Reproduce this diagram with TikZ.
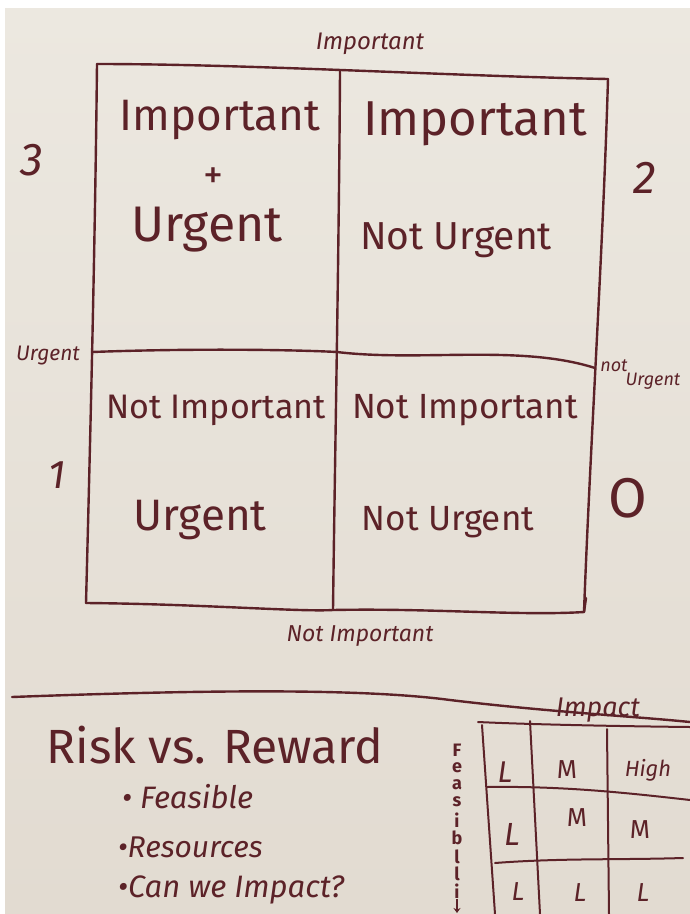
\documentclass[tikz,border=0pt]{standalone}
\usepackage{fontspec}
\setmainfont{Fira Sans}
\usetikzlibrary{arrows.meta}
\definecolor{ink}{HTML}{5C2228}
\definecolor{paperTop}{HTML}{ECE8E0}
\definecolor{paperBot}{HTML}{E2DBD1}
\newcommand{\hsz}[1]{\fontsize{#1}{#1}\selectfont}
\begin{document}
\begin{tikzpicture}[x=1pt,y=-1pt,
  pen/.style={draw=ink,line width=2.4pt,line cap=round,line join=round},
  thinpen/.style={draw=ink,line width=2pt,line cap=round,line join=round},
  hand/.style={text=ink,inner sep=0pt,anchor=center}]
\useasboundingbox (0,0) rectangle (690,914);
\fill[white] (0,0) rectangle (690,914);
\shade[top color=paperTop,bottom color=paperBot] (5,8) rectangle (690,914);

% ---- main grid corners
\coordinate (TL) at (97,64);
\coordinate (TM) at (340,71);
\coordinate (TR) at (608,79);
\coordinate (ML) at (92,352);
\coordinate (MM) at (337,352);
\coordinate (MR) at (595,368);
\coordinate (BL) at (86,603);
\coordinate (BM) at (333,610);
\coordinate (BR) at (584,612);

\draw[pen] (TL) .. controls (250,64) and (450,76) .. (TR);
\draw[pen] (TL) .. controls (95,250) and (90,450) .. (BL);
\draw[pen] (TM) .. controls (339,250) and (335,450) .. (BM);
\draw[pen] (TR) .. controls (603,250) and (590,450) .. (BR);
\draw[pen] (ML) .. controls (200,348) and (300,350) .. (MM)
               .. controls (420,362) and (520,344) .. (MR);
\draw[pen] (BL) .. controls (200,604) and (300,612) .. (BM)
               .. controls (430,608) and (520,616) .. (BR) -- (586,598);

% ---- separator
\coordinate (SL) at (12,697);
\coordinate (SR) at (690,722);
\draw[pen] (SL) .. controls (200,690) and (360,688) .. (450,700)
               .. controls (550,712) and (630,716) .. (SR);

% ---- axis labels and numbers
\node[hand,font=\hsz{24}\itshape] (topImp) at (370,44) {Important};
\node[hand,font=\hsz{23}\itshape] (botImp) at (360,636) {Not Important};
\node[hand,font=\hsz{21}\itshape] (lUrg) at (48,356) {Urgent};
\node[hand,font=\hsz{18}\itshape] (rNot) at (614,366) {not};
\node[hand,font=\hsz{18}\itshape] (rUrg) at (653,381) {Urgent};
\node[hand,font=\hsz{46}\itshape] (n3) at (32,160) {3};
\node[hand,font=\hsz{46}\itshape] (n2) at (645,178) {2};
\node[hand,font=\hsz{40}\itshape] (n1) at (57,475) {1};
\node[hand,font=\hsz{56}] (n0) at (628,498) {O};

% ---- quadrant text
\node[hand,font=\hsz{44}] (q1a) at (220,120) {Important};
\node[hand,font=\hsz{40}] (q1b) at (213,178) {+};
\node[hand,font=\hsz{50}] (q1c) at (207,230) {Urgent};
\node[hand,font=\hsz{49}] (q2a) at (475,124) {Important};
\node[hand,font=\hsz{39}] (q2b) at (456,240) {Not Urgent};
\node[hand,font=\hsz{34}] (q3a) at (216,410) {Not Important};
\node[hand,font=\hsz{44}] (q3b) at (200,520) {Urgent};
\node[hand,font=\hsz{35}] (q4a) at (465,410) {Not Important};
\node[hand,font=\hsz{35}] (q4b) at (448,522) {Not Urgent};

% ---- Risk vs Reward
\node[hand,font=\hsz{48}] (risk) at (215,745) {Risk vs. Reward};
\node[hand,font=\hsz{31}\itshape,anchor=west] (b1) at (122,797) {• Feasible};
\node[hand,font=\hsz{30}\itshape,anchor=west] (b2) at (118,847) {•Resources};
\node[hand,font=\hsz{31}\itshape,anchor=west] (b3) at (118,890) {•Can we Impact?};

% ---- small grid
\coordinate (gT1) at (478,722);
\coordinate (gT2) at (690,727);
\coordinate (gV1a) at (482,725); \coordinate (gV1b) at (495,914);
\coordinate (gV2a) at (530,721); \coordinate (gV2b) at (540,914);
\coordinate (gV3a) at (607,729); \coordinate (gV3b) at (609,914);
\coordinate (gR1a) at (487,787); \coordinate (gR1b) at (690,800);
\coordinate (gR2a) at (495,863); \coordinate (gR2b) at (683,858);
\draw[thinpen] (gT1) .. controls (520,724) and (600,726) .. (gT2);
\draw[thinpen] (gV1a) -- (gV1b);
\draw[thinpen] (gV2a) -- (gV2b);
\draw[thinpen] (gV3a) -- (gV3b);
\draw[thinpen] (gR1a) .. controls (560,786) and (620,792) .. (gR1b);
\draw[thinpen] (gR2a) .. controls (560,858) and (620,860) .. (gR2b);

\node[hand,font=\hsz{27}\itshape] (impact) at (598,710) {Impact};
\node[hand,font=\hsz{30}\itshape] (c11) at (505,772) {L};
\node[hand,font=\hsz{26}] (c12) at (567,770) {M};
\node[hand,font=\hsz{22}\itshape] (c13) at (648,770) {High};
\node[hand,font=\hsz{32}\itshape] (c21) at (512,834) {L};
\node[hand,font=\hsz{26}] (c22) at (577,818) {M};
\node[hand,font=\hsz{26}] (c23) at (640,830) {M};
\node[hand,font=\hsz{26}\itshape] (c31) at (518,892) {L};
\node[hand,font=\hsz{26}\itshape] (c32) at (580,893) {L};
\node[hand,font=\hsz{26}\itshape] (c33) at (643,893) {L};

% ---- Feasibility (vertical letters)
\foreach \ch/\yy [count=\k] in {F/750,e/768,a/785,s/802,i/820,b/838,l/857,l/874,i/891}
  \node[hand,font=\hsz{18}\bfseries] (f\k) at (457,\yy) {\ch};
\coordinate (fArr) at (457,913);
\draw[ink,line width=1.8pt,-{Stealth[length=5pt,width=7pt]}] (f9.south) -- (fArr);
\end{tikzpicture}
\end{document}
